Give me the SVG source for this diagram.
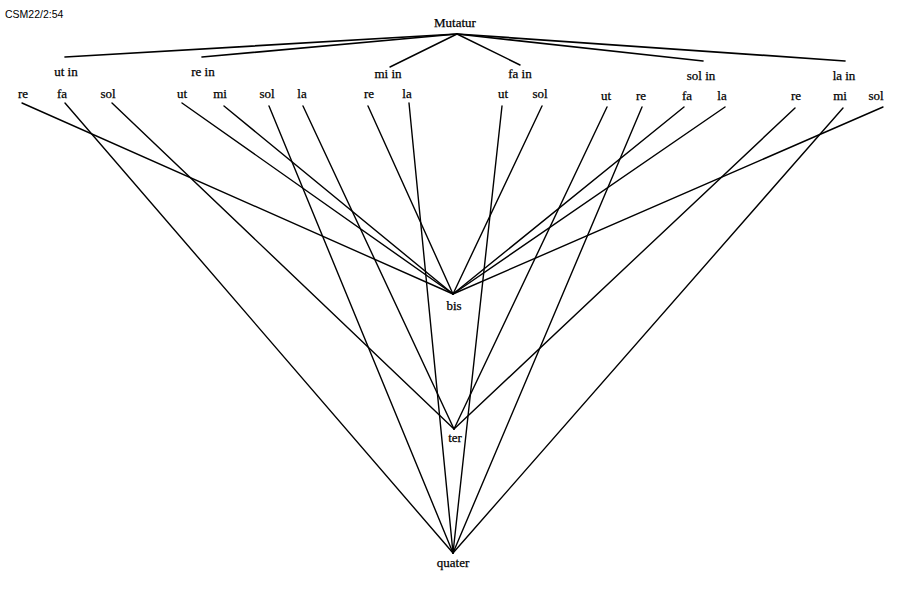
<svg xmlns="http://www.w3.org/2000/svg" width="908" height="593" viewBox="0 0 908 593">
<style>
.t{font-family:"Liberation Serif","Times New Roman",serif;font-size:13px;fill:#000;stroke:#000;stroke-width:0.25;text-anchor:middle}
.c{font-family:"Liberation Sans",Arial,sans-serif;font-size:10.5px;fill:#000}
.e{stroke:#000;stroke-width:1.4;fill:none;stroke-linecap:round}
.u{stroke:#000;stroke-width:1.7;fill:none;stroke-linecap:round}
</style>
<rect width="908" height="593" fill="#fff"/>
<text class="c" x="5" y="18">CSM22/2:54</text>
<g id="connectors">
<g id="upper">
<line class="u" x1="457" y1="34" x2="65" y2="57"/>
<line class="u" x1="457" y1="34" x2="202" y2="57"/>
<line class="e" x1="457" y1="34" x2="390" y2="67"/>
<line class="e" x1="457" y1="34" x2="520" y2="65"/>
<line class="u" x1="457" y1="34" x2="703" y2="61"/>
<line class="u" x1="457" y1="34" x2="845" y2="61"/>
</g>
<g id="to-bis">
<line class="e" x1="22" y1="103" x2="453" y2="294"/>
<line class="e" x1="182" y1="103" x2="453" y2="294"/>
<line class="e" x1="224" y1="106" x2="453" y2="294"/>
<line class="e" x1="368" y1="106" x2="453" y2="294"/>
<line class="e" x1="542" y1="106" x2="453" y2="294"/>
<line class="e" x1="684" y1="107" x2="453" y2="294"/>
<line class="e" x1="725" y1="107" x2="453" y2="294"/>
<line class="e" x1="883" y1="107" x2="453" y2="294"/>
</g>
<g id="to-ter">
<line class="e" x1="112" y1="103" x2="454" y2="429"/>
<line class="e" x1="303" y1="106" x2="454" y2="429"/>
<line class="e" x1="607" y1="107" x2="454" y2="429"/>
<line class="e" x1="795" y1="108" x2="454" y2="429"/>
</g>
<g id="to-quater">
<line class="e" x1="65" y1="103" x2="453" y2="553"/>
<line class="e" x1="269" y1="106" x2="453" y2="553"/>
<line class="e" x1="409" y1="103" x2="453" y2="553"/>
<line class="e" x1="502" y1="106" x2="453" y2="553"/>
<line class="e" x1="642" y1="107" x2="453" y2="553"/>
<line class="e" x1="843" y1="108" x2="453" y2="553"/>
</g>
</g>
<g id="mutatur"><text class="t" x="455" y="27">Mutatur</text></g>
<g id="ut-in"><text class="t" x="66" y="76">ut in</text>
<text class="t" x="23" y="98">re</text><text class="t" x="62" y="98">fa</text><text class="t" x="108" y="98">sol</text></g>
<g id="re-in"><text class="t" x="203" y="76">re in</text>
<text class="t" x="182" y="98">ut</text><text class="t" x="220" y="98">mi</text><text class="t" x="267" y="98">sol</text><text class="t" x="302" y="98">la</text></g>
<g id="mi-in"><text class="t" x="388" y="78">mi in</text>
<text class="t" x="369" y="98">re</text><text class="t" x="407" y="98">la</text></g>
<g id="fa-in"><text class="t" x="520" y="78">fa in</text>
<text class="t" x="503" y="98">ut</text><text class="t" x="540" y="98">sol</text></g>
<g id="sol-in"><text class="t" x="701" y="80">sol in</text>
<text class="t" x="606" y="100">ut</text><text class="t" x="641" y="100">re</text><text class="t" x="687" y="100">fa</text><text class="t" x="722" y="100">la</text></g>
<g id="la-in"><text class="t" x="844" y="80">la in</text>
<text class="t" x="796" y="100">re</text><text class="t" x="840" y="100">mi</text><text class="t" x="876" y="100">sol</text></g>
<g id="bis"><text class="t" x="454" y="310">bis</text></g>
<g id="ter"><text class="t" x="455" y="442">ter</text></g>
<g id="quater"><text class="t" x="453" y="567">quater</text></g>
</svg>
